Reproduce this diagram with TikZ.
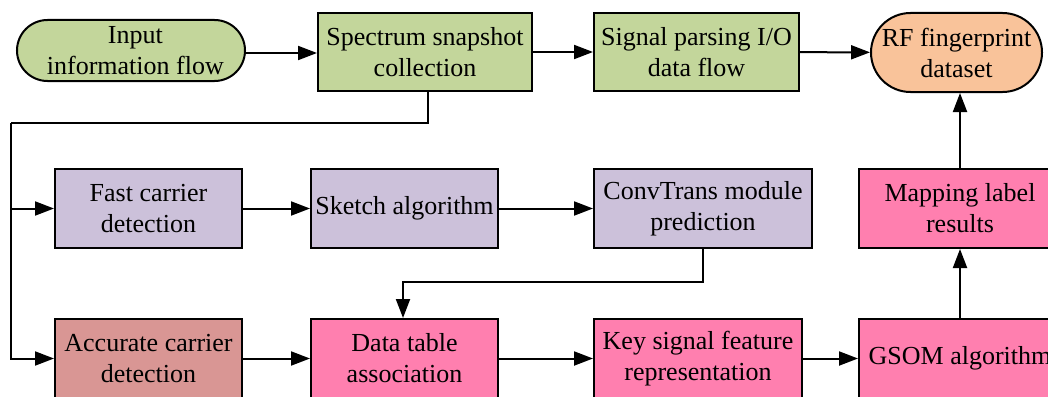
\documentclass[tikz,border=0pt]{standalone}
\usepackage{fontspec}
\setmainfont{Liberation Serif}
\newfontfamily\blkfont{Liberation Serif}
\usetikzlibrary{shapes.misc,arrows.meta}

\definecolor{boxgreen}{HTML}{C3D69B}
\definecolor{boxpurple}{HTML}{CCC1DA}
\definecolor{boxpink}{HTML}{FF7FAF}
\definecolor{boxrose}{HTML}{D99694}
\definecolor{boxorange}{HTML}{F9C39A}

\tikzset{
  blk/.style={draw=black, line width=2pt, minimum height=79pt, align=center,
    inner sep=2pt, font=\blkfont\fontsize{26}{31}\selectfont},
  term/.style={blk, rounded rectangle},
  link/.style={line width=2pt, -{Triangle[length=19pt,width=14pt]}},
  wire/.style={line width=2pt}
}

\begin{document}
\begin{tikzpicture}[x=1pt,y=-1pt]
\useasboundingbox (0,0) rectangle (1048,396);
\clip (0,0) rectangle (1048,396);

% top row
\node[term, fill=boxgreen, minimum width=232pt, minimum height=61pt] (in) at (131,50.5) {\,\,Input\\\,\,information flow};
\node[blk, fill=boxgreen, minimum width=214pt, minimum height=78pt] (spec) at (425,52) {Spectrum snapshot\\collection};
\node[blk, fill=boxgreen, minimum width=205pt, minimum height=78pt] (sig) at (696.5,52) {Signal parsing I/O\\data flow};
\node[term, fill=boxorange, minimum width=175pt] (rf) at (956.5,52.5) {RF fingerprint\\dataset};

% middle row
\node[blk, fill=boxpurple, minimum width=187pt] (fast) at (148.5,208.5) {Fast carrier\\detection};
\node[blk, fill=boxpurple, minimum width=187pt] (sketch) at (404.5,208.5) {Sketch algorithm};
\node[blk, fill=boxpurple, minimum width=218pt] (conv) at (703,208.5) {ConvTrans module\\prediction};
\node[blk, fill=boxpink, minimum width=202pt] (map) at (960,208.5) {Mapping label\\results};

% bottom row
\node[blk, fill=boxrose, minimum width=187pt] (acc) at (148.5,358.5) {Accurate carrier\\detection};
\node[blk, fill=boxpink, minimum width=187pt] (data) at (404.5,358.5) {Data table\\association};
\node[blk, fill=boxpink, minimum width=208pt] (key) at (698,358.5) {Key signal feature\\representation};
\node[blk, fill=boxpink, minimum width=202pt] (gsom) at (960,358.5) {GSOM algorithm};

% routing points
\coordinate (bus) at (11,123);
\coordinate (turn) at (428,123);
\coordinate (drop) at (403,282);

% top row flow
\draw[link] (in.east |- 0,53) -- (spec.west |- 0,53);
\draw[link] (spec) -- (sig);
\draw[link] (sig) -- (rf);

% feed from the snapshot block down to both detectors
\draw[wire] (spec.south -| turn) -- (turn) -- (bus);
\draw[link] (bus) |- (acc.west);
\draw[link] (bus |- fast.west) -- (fast.west);

% middle row flow
\draw[link] (fast) -- (sketch);
\draw[link] (sketch) -- (conv);
\draw[link] (conv.south) |- (drop) -- (drop |- data.north);

% bottom row flow
\draw[link] (acc) -- (data);
\draw[link] (data) -- (key);
\draw[link] (key) -- (gsom);
\draw[link] (gsom.north) -- (map.south);
\draw[link] (map.north) -- (map.north |- rf.south);
\end{tikzpicture}
\end{document}
